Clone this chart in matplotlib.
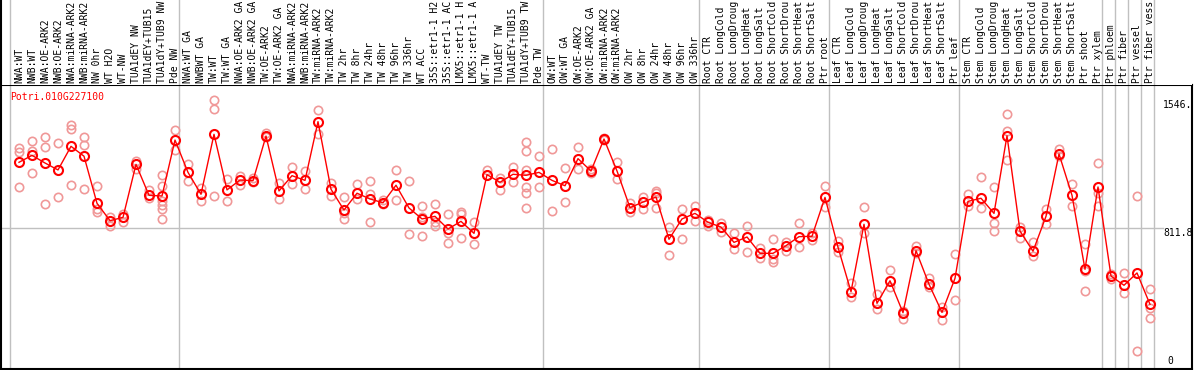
import matplotlib
matplotlib.use("Agg")
from matplotlib import pyplot as plt

# sample names (cut at the top edge like the original)
labels = [
    "NWA:WT", "NWB:WT", "NWA:OE-ARK2", "NWB:OE-ARK2", "NWA:miRNA-ARK2", "NWB:miRNA-ARK2",
    "NW 0hr", "WT H2O", "WT-NW", "TUA1dEY NW", "TUA1dEY+TUB15", "TUA1dY+TUB9 NW", "Pde NW",
    "NWA:WT GA", "NWBWT GA", "TW:WT", "TW:WT GA", "NWA:OE-ARK2 GA", "NWB:OE-ARK2 GA",
    "TW:OE-ARK2", "TW:OE-ARK2 GA", "NWA:miRNA-ARK2", "NWB:miRNA-ARK2", "TW:miRNA-ARK2",
    "TW:miRNA-ARK2", "TW 2hr", "TW 8hr", "TW 24hr", "TW 48hr", "TW 96hr", "TW 336hr", "WT ACC",
    "35S::etr1-1 H2", "35S::etr1-1 AC", "LMX5::etr1-1 H", "LMX5::etr1-1 A", "WT-TW",
    "TUA1dEY TW", "TUA1dEY+TUB15", "TUA1dY+TUB9 TW", "Pde TW",
    "OW:WT", "OW:WT GA", "OW:OE-ARK2", "OW:OE-ARK2 GA", "OW:miRNA-ARK2", "OW:miRNA-ARK2",
    "OW 2hr", "OW 8hr", "OW 24hr", "OW 48hr", "OW 96hr", "OW 336hr",
    "Root CTR", "Root LongCold", "Root LongDroug", "Root LongHeat", "Root LongSalt",
    "Root ShortCold", "Root ShortDrou", "Root ShortHeat", "Root ShortSalt", "Ptr root",
    "Leaf CTR", "Leaf LongCold", "Leaf LongDroug", "Leaf LongHeat", "Leaf LongSalt",
    "Leaf ShortCold", "Leaf ShortDrou", "Leaf ShortHeat", "Leaf ShortSalt", "Ptr leaf",
    "Stem CTR", "Stem LongCold", "Stem LongDroug", "Stem LongHeat", "Stem LongSalt",
    "Stem ShortCold", "Stem ShortDrou", "Stem ShortHeat", "Stem ShortSalt", "Ptr shoot",
    "Ptr xylem", "Ptr phloem", "Ptr fiber", "Ptr vessel", "Ptr fiber vess",
]

# mean expression per sample
means = [
    1190, 1230, 1186, 1146, 1282, 1225, 954, 854, 873, 1178,
    1000, 996, 1318, 1132, 1006, 1351, 1031, 1088, 1084, 1341,
    1025, 1113, 1086, 1424, 1035, 915, 1012, 979, 957, 1058,
    927, 864, 879, 806, 850, 781, 1119, 1075, 1121, 1115,
    1132, 1086, 1055, 1211, 1140, 1324, 1140, 929, 961, 990,
    747, 864, 896, 845, 817, 729, 760, 666, 666, 710,
    762, 764, 988, 701, 445, 833, 378, 508, 324, 681,
    488, 326, 522, 965, 983, 896, 1343, 794, 678, 879,
    1238, 1000, 574, 1048, 535, 482, 553, 372,
]

# individual replicates
reps = [
    [1271, 1251, 1046], [1313, 1257, 1127], [1334, 1276, 948], [1299, 990],
    [1405, 1380, 1058], [1336, 1291, 1036], [1052, 921, 904], [873, 823],
    [892, 845], [1197, 1151], [1031, 983], [1115, 1055, 967, 944, 921, 864],
    [1374, 1259], [1180, 1081], [1040, 969], [1546, 1495, 994],
    [1092, 965], [1111, 1059], [1101, 1075], [1357, 1334],
    [1069, 977], [1161, 1067], [1140, 1036], [1489, 1355],
    [1073, 998], [988, 896, 864], [1063, 977], [1082, 1009, 845],
    [971, 950], [1144, 971], [1082, 777], [940, 877, 766],
    [948, 848, 823], [894, 785, 724], [906, 892, 752], [845, 720],
    [1144, 1117], [1100, 1032], [1161, 1078], [1305, 1253, 1144, 1046, 1012, 925],
    [1225, 1046], [1265, 908], [1155, 961], [1276, 1153],
    [1150, 1127], [1330, 1320], [1192, 1092], [957, 902],
    [988, 923], [1026, 1013, 927], [817, 656], [921, 748],
    [937, 854], [858, 825], [842, 790], [781, 693],
    [823, 675], [698, 641], [748, 632, 616], [731, 679],
    [839, 701], [785, 744], [1052, 931], [737, 674],
    [493, 416], [931, 781], [432, 345], [568, 474],
    [290, 335], [710, 670], [526, 470], [359, 280],
    [660, 397], [1006, 940], [1104, 925], [1046, 839, 793],
    [1466, 1370, 1201], [816, 756], [729, 649], [921, 835],
    [1267, 1228], [1065, 940], [718, 562, 449], [1184, 1012, 938],
    [547, 520], [553, 436], [994, 102], [459, 349, 295],
]

# where the grey group separators sit (sample index)
group_starts = [0, 13, 41, 53, 63, 73, 84, 85, 86, 87, 88]

W, H = 1194, 370
plt.rcParams["font.family"] = "DejaVu Sans Mono"
plt.rcParams["font.size"] = 7

fig = plt.figure(figsize=(W / 100, H / 100), dpi=100)
ax = fig.add_axes([1 / W, 1 / H, 1191 / W, 284 / H])
lab = fig.add_axes([1 / W, 285 / H, 1191 / W, 85 / H])

xlo, xhi = (1 - 19) / 13, (1192 - 19) / 13
ymax = 1635

gray = "#c0c0c0"
for a in (ax, lab):
    a.set_xlim(xlo, xhi)
    a.set_xticks([])
    a.set_yticks([])
    for k in group_starts:
        a.axvline(k - 9 / 13, color=gray, lw=1, zorder=0)

ax.set_ylim(0, ymax)
ax.axhline(811.8, xmax=0.9757, color=gray, lw=1, zorder=0)
for s in ax.spines.values():
    s.set_color("black")
    s.set_linewidth(1.5)

lab.set_ylim(0, 1)
for side in ("top", "right", "bottom"):
    lab.spines[side].set_visible(False)
lab.spines["left"].set_linewidth(1.5)

# replicates
for i, r in enumerate(reps):
    ax.plot([i] * len(r), r, "o", ms=6, mfc="none", mec="#f09898", mew=1.2, zorder=2,
            clip_on=False)

# mean line
xs = list(range(len(means)))
ax.plot(xs, means, "-", color="red", lw=1, zorder=3)
ax.plot(xs, means, "o", ms=6.5, mfc="none", mec="red", mew=1.5, zorder=4)

# sample labels
for i, name in enumerate(labels):
    lab.text(i, 2 / 85, name, rotation=90, ha="center", va="bottom", color="black")

ax.text(0.0076, 0.975, "Potri.010G227100", transform=ax.transAxes, color="red",
        ha="left", va="top")

xl = (1163 - 19) / 13
ax.text(xl, 1546, "1546.", ha="left", va="top")
ax.text(xl, 811.8, "811.8", ha="left", va="top")
ax.text(xl + 0.3, 15, "0", ha="left", va="bottom")

fig.savefig("out.png", dpi=100)
